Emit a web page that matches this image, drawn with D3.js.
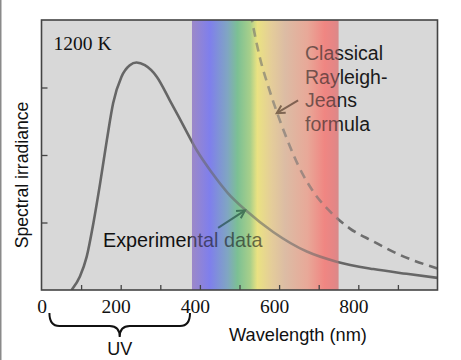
<!DOCTYPE html>
<html>
<head>
<meta charset="utf-8">
<script src="https://cdn.jsdelivr.net/npm/d3@7"></script>
<style>
  body { margin: 0; background: #fff; }
  #chart { width: 461px; height: 360px; }
</style>
</head>
<body>
<div id="chart"></div>
<script>
// experimental curve (wavelength in nm, irradiance in arbitrary units)
const expWavelength = [76, 97, 114, 131, 148, 165, 181, 202, 223, 240, 261, 291, 324, 358, 392, 430, 470, 518, 585, 670, 745, 838, 922, 1000];
const expIrradiance = [0, 0.2, 0.49, 0.99, 1.58, 2.22, 2.77, 3.16, 3.33, 3.37, 3.33, 3.16, 2.81, 2.44, 2.07, 1.74, 1.44, 1.17, 0.86, 0.57, 0.42, 0.31, 0.24, 0.18];

// classical rayleigh-jeans curve
const rjWavelength = [528, 552, 573, 594, 619, 648, 686, 729, 779, 838, 905, 1000];
const rjIrradiance = [4.1, 3.43, 3.01, 2.64, 2.25, 1.85, 1.46, 1.16, 0.91, 0.72, 0.52, 0.32];

// axis ticks
const xLabelTicks = [0, 200, 400, 600, 800];
const xMarkTicks = [100, 200, 300, 400, 500, 600, 700, 800, 900];
const yMarkTicks = [1, 2, 3];

// visible spectrum band
const spectrumNm = [380, 425, 470, 495, 527, 545, 582, 615, 672, 715, 740, 750];
const spectrumColors = ["#9c88c8", "#7f7fec", "#80a6c2", "#7cc094", "#a8cf8a", "#eae282", "#e4cc9a", "#dcbca4", "#e8a898", "#f08682", "#e48686", "#d88a8a"];

function createChart(containerId) {
    const container = document.getElementById(containerId);
    const margin = { top: 20, right: 23.5, bottom: 70, left: 41.5 };
    const width = 461 - margin.left - margin.right;
    const height = 360 - margin.top - margin.bottom;

    const x = d3.scaleLinear().domain([0, 1000]).range([0, width]);
    const y = d3.scaleLinear().domain([0, 4]).range([height, 0]);

    const svg = d3.create("svg")
        .attr("width", 461)
        .attr("height", 360);

    // thin border on the left edge of the picture
    svg.append("rect")
       .attr("x", 0).attr("y", 0)
       .attr("width", 1.5).attr("height", 360)
       .attr("fill", "#8a8a8a");

    const defs = svg.append("defs");
    const grad = defs.append("linearGradient")
        .attr("id", "spectrum")
        .attr("gradientUnits", "userSpaceOnUse")
        .attr("x1", x(380)).attr("x2", x(750))
        .attr("y1", 0).attr("y2", 0);
    grad.selectAll("stop")
        .data(spectrumNm)
        .join("stop")
        .attr("offset", d => (d - 380) / (750 - 380))
        .attr("stop-color", (d, i) => spectrumColors[i]);

    defs.append("clipPath").attr("id", "plotClip")
        .append("rect").attr("width", width).attr("height", height);

    const g = svg.append("g")
        .attr("transform", `translate(${margin.left},${margin.top})`);

    // plot background and spectrum band
    g.append("rect")
     .attr("width", width).attr("height", height)
     .attr("fill", "#d8d8d8");
    g.append("rect")
     .attr("x", x(380)).attr("width", x(750) - x(380))
     .attr("height", height)
     .attr("fill", "url(#spectrum)");

    const plot = g.append("g").attr("clip-path", "url(#plotClip)");

    const line = d3.line()
        .x(d => x(d[0]))
        .y(d => y(d[1]))
        .curve(d3.curveMonotoneX);

    // experimental data
    plot.append("path")
        .datum(expWavelength.map((w, i) => [w, expIrradiance[i]]))
        .attr("d", line)
        .attr("fill", "none")
        .attr("stroke", "#666")
        .attr("stroke-width", 2.6);

    // rayleigh-jeans
    plot.append("path")
        .datum(rjWavelength.map((w, i) => [w, rjIrradiance[i]]))
        .attr("d", line)
        .attr("fill", "none")
        .attr("stroke", "#6e6e6e")
        .attr("stroke-width", 2.6)
        .attr("stroke-dasharray", "9,6");

    // arrows
    function arrow(x1, y1, x2, y2, color) {
        const a = Math.atan2(y2 - y1, x2 - x1);
        const len = 9, spread = 0.5;
        g.append("line")
         .attr("x1", x1).attr("y1", y1).attr("x2", x2).attr("y2", y2)
         .attr("stroke", color).attr("stroke-width", 2);
        g.append("path")
         .attr("d", `M${x2 - len * Math.cos(a - spread)},${y2 - len * Math.sin(a - spread)}L${x2},${y2}L${x2 - len * Math.cos(a + spread)},${y2 - len * Math.sin(a + spread)}`)
         .attr("fill", "none").attr("stroke", color).attr("stroke-width", 2);
    }
    arrow(x(446), y(0.92), x(514), y(1.18), "#103c30");
    arrow(x(648), y(2.81), x(594), y(2.62), "#3a2418");

    // annotations
    const sans = "'Liberation Sans', Arial, sans-serif";
    const serif = "'Liberation Serif', 'Times New Roman', serif";

    g.append("text")
     .attr("x", 12).attr("y", 30)
     .attr("font-family", serif).attr("font-size", 19.5)
     .attr("fill", "#111")
     .text("1200 K");

    g.append("text")
     .attr("x", 61.5).attr("y", 227)
     .attr("font-family", sans).attr("font-size", 19.8)
     .attr("fill", "#111")
     .text("Experimental data");

    const rjLines = ["Classical", "Rayleigh-", "Jeans", "formula"];
    g.append("g")
     .selectAll("text")
     .data(rjLines)
     .join("text")
     .attr("x", 263.5)
     .attr("y", (d, i) => 40 + i * 23.5)
     .attr("font-family", sans).attr("font-size", 19.5)
     .attr("fill", "#1a1a1a")
     .text(d => d);

    // tint overlay of the spectrum over curves and text
    g.append("rect")
     .attr("x", x(380)).attr("width", x(750) - x(380))
     .attr("height", height)
     .attr("fill", "url(#spectrum)")
     .style("opacity", 0.42);

    // inside ticks
    const xAxis = g.append("g")
        .attr("transform", `translate(0,${height})`)
        .call(d3.axisBottom(x).tickValues(xMarkTicks).tickSize(-5).tickFormat(""));
    xAxis.select(".domain").remove();
    xAxis.selectAll("line").attr("stroke", "#444").attr("stroke-width", 1.3);

    const yAxis = g.append("g")
        .call(d3.axisLeft(y).tickValues(yMarkTicks).tickSize(-6).tickFormat(""));
    yAxis.select(".domain").remove();
    yAxis.selectAll("line").attr("stroke", "#444").attr("stroke-width", 1.3);

    // frame
    g.append("rect")
     .attr("width", width).attr("height", height)
     .attr("fill", "none")
     .attr("stroke", "#444")
     .attr("stroke-width", 1.6);

    // x tick labels
    const xLabels = g.append("g")
        .attr("transform", `translate(0,${height})`)
        .call(d3.axisBottom(x).tickValues(xLabelTicks).tickSize(0).tickPadding(9));
    xLabels.select(".domain").remove();
    xLabels.selectAll("text")
        .attr("font-family", serif)
        .attr("font-size", 19.5)
        .attr("fill", "#111")
        .attr("dx", d => d === 0 ? 0 : -5);

    // axis titles
    svg.append("text")
       .attr("x", 298).attr("y", 341)
       .attr("text-anchor", "middle")
       .attr("font-family", sans).attr("font-size", 18.2)
       .attr("fill", "#111")
       .text("Wavelength (nm)");

    svg.append("text")
       .attr("transform", "translate(28,175) rotate(-90)")
       .attr("text-anchor", "middle")
       .attr("font-family", sans).attr("font-size", 17.6)
       .attr("fill", "#111")
       .text("Spectral irradiance");

    // UV brace
    const bx1 = margin.left + x(20), bx2 = margin.left + x(375);
    const bm = (bx1 + bx2) / 2;
    const y0 = 313, y1 = 326, y2 = 337, r = 10;
    svg.append("path")
       .attr("d", `M${bx1},${y0} Q${bx1},${y1} ${bx1 + r},${y1} L${bm - r},${y1} Q${bm},${y1} ${bm},${y2} Q${bm},${y1} ${bm + r},${y1} L${bx2 - r},${y1} Q${bx2},${y1} ${bx2},${y0}`)
       .attr("fill", "none")
       .attr("stroke", "#111")
       .attr("stroke-width", 2);

    svg.append("text")
       .attr("x", bm).attr("y", 355)
       .attr("text-anchor", "middle")
       .attr("font-family", sans).attr("font-size", 18)
       .attr("fill", "#111")
       .text("UV");

    container.appendChild(svg.node());
}

createChart("chart");
</script>
</body>
</html>
